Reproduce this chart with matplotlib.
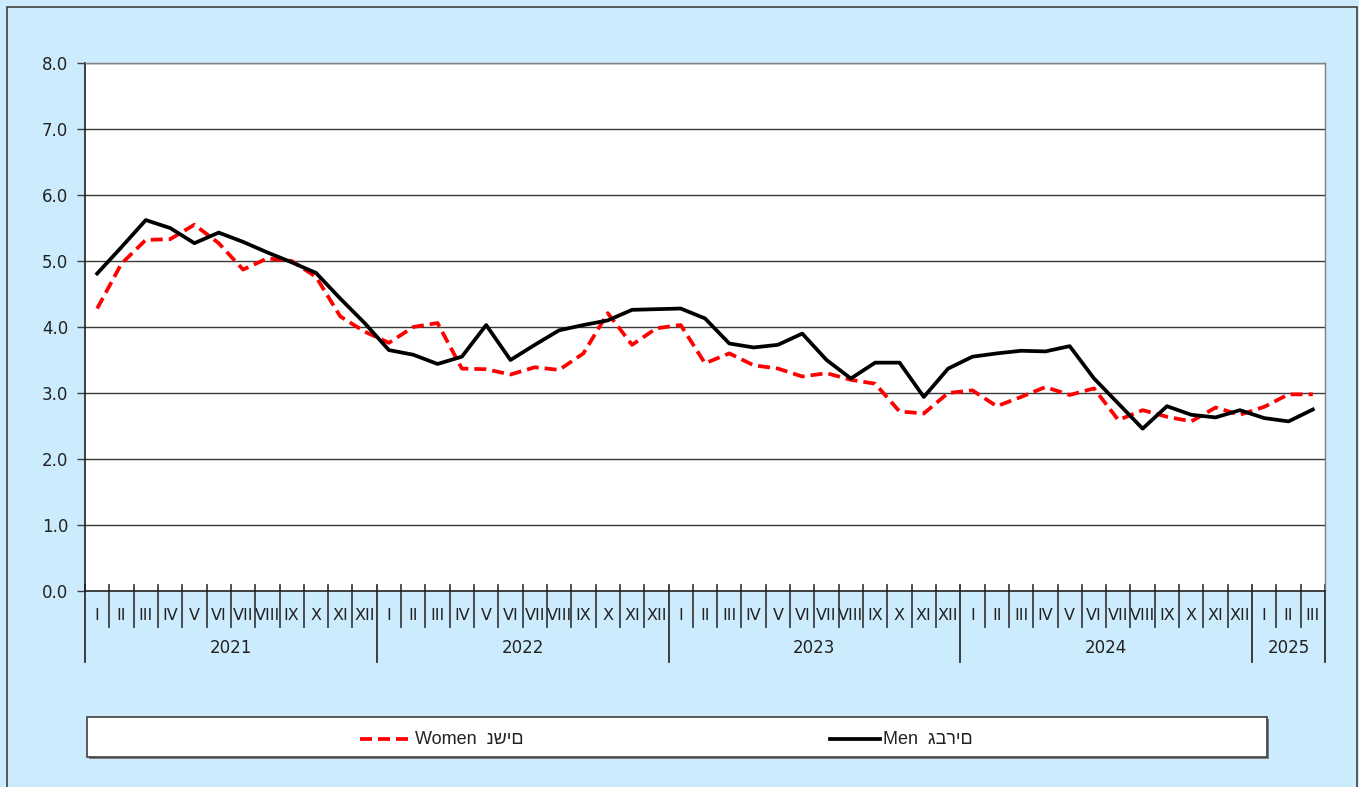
import matplotlib
matplotlib.use("Agg")
import matplotlib.pyplot as plt
from matplotlib.patches import Rectangle
from matplotlib.lines import Line2D
import matplotlib.transforms as mtransforms

plt.rcParams['font.family'] = ['DejaVu Sans']

years = ["2021", "2022", "2023", "2024", "2025"]
months_per_year = [12, 12, 12, 12, 3]
month_names = ["I", "II", "III", "IV", "V", "VI", "VII", "VIII", "IX", "X", "XI", "XII"]

women = [4.28, 4.96, 5.32, 5.33, 5.55, 5.27, 4.87, 5.04, 5.00, 4.76, 4.16, 3.93,
         3.76, 4.00, 4.06, 3.37, 3.36, 3.28, 3.39, 3.35, 3.60, 4.21, 3.73, 3.98,
         4.03, 3.45, 3.60, 3.42, 3.37, 3.25, 3.30, 3.20, 3.14, 2.72, 2.69, 3.00,
         3.04, 2.80, 2.94, 3.09, 2.97, 3.07, 2.59, 2.74, 2.64, 2.57, 2.78, 2.67,
         2.79, 2.98, 2.98]
men = [4.81, 5.21, 5.62, 5.50, 5.27, 5.43, 5.29, 5.13, 4.98, 4.82, 4.43, 4.06,
       3.65, 3.58, 3.44, 3.55, 4.03, 3.50, 3.73, 3.95, 4.03, 4.10, 4.26, 4.27,
       4.28, 4.13, 3.75, 3.69, 3.73, 3.90, 3.50, 3.22, 3.46, 3.46, 2.94, 3.37,
       3.55, 3.60, 3.64, 3.63, 3.71, 3.22, 2.84, 2.46, 2.80, 2.67, 2.63, 2.74,
       2.62, 2.57, 2.75]

legend_labels = ["Women  נשים", "Men  גברים"]
yticks = [0, 1, 2, 3, 4, 5, 6, 7, 8]

W, H = 1359, 787
fig = plt.figure(figsize=(W / 100, H / 100), dpi=100)
fig.patch.set_facecolor("#CCEBFD")

ax = fig.add_axes([85 / W, 1 - 591 / H, (1325 - 85) / W, (591 - 63) / H])
ax.set_facecolor("white")

n = len(men)
x = list(range(n))
ax.plot(x, women, color="#FF0000", lw=2.7, dashes=(3.2, 1.6), zorder=3)
ax.plot(x, men, color="black", lw=2.7, zorder=4)

ax.set_xlim(-0.5, n - 0.5)
ax.set_ylim(0, 8)
ax.set_yticks(yticks)
ax.set_yticklabels([f"{v:.1f}" for v in yticks], fontsize=12, color="#222222")
ax.tick_params(axis="y", length=6, width=1, color="#404040", pad=6)
ax.set_xticks([])
for v in yticks[1:]:
    ax.axhline(v, color="#3a3a3a", lw=1.0, zorder=1)
for side in ["left", "bottom"]:
    ax.spines[side].set_color("#202020")
    ax.spines[side].set_linewidth(1.2)
for side in ["top", "right"]:
    ax.spines[side].set_color("#808080")
    ax.spines[side].set_linewidth(1.0)

trans = mtransforms.blended_transform_factory(ax.transData, ax.transAxes)
ah = 591 - 63
y_top = 6 / ah
y_msep = -36 / ah
y_ysep = -71 / ah
y_mlab = -24 / ah
y_ylab = -57 / ah

idx = 0
bounds = [-0.5]
for yr, cnt in zip(years, months_per_year):
    for m in range(cnt):
        ax.text(idx, y_mlab, month_names[m], transform=trans, ha="center", va="center",
                fontsize=11.5, color="#222222")
        if m > 0:
            ax.plot([idx - 0.5, idx - 0.5], [y_top, y_msep], transform=trans, color="#404040",
                    lw=1.3, clip_on=False)
        idx += 1
    ax.text(idx - cnt / 2 - 0.5, y_ylab, yr, transform=trans, ha="center", va="center",
            fontsize=12, color="#222222")
    bounds.append(idx - 0.5)
for b in bounds:
    ax.plot([b, b], [y_top, y_ysep], transform=trans, color="#303030", lw=1.3, clip_on=False)

# legend box
lx0, ly0, lx1, ly1 = 87, 717, 1267, 757
fig.add_artist(Rectangle((lx0 / W + 2 / W, 1 - (ly1 + 2) / H), (lx1 - lx0) / W, (ly1 - ly0) / H,
                         transform=fig.transFigure, facecolor="#7f7f7f", edgecolor="none"))
fig.add_artist(Rectangle((lx0 / W, 1 - ly1 / H), (lx1 - lx0) / W, (ly1 - ly0) / H,
                         transform=fig.transFigure, facecolor="white", edgecolor="#404040", lw=1.2))
ly = 1 - 739 / H
leg_font = ['Liberation Sans', 'DejaVu Sans']
fig.add_artist(Line2D([360 / W, 412 / W], [ly, ly], transform=fig.transFigure, color="#FF0000",
                      lw=2.7, dashes=(3.2, 1.6)))
fig.text(415 / W, ly, legend_labels[0], ha="left", va="center", fontsize=13, color="#222222",
         family=leg_font)
fig.add_artist(Line2D([830 / W, 880 / W], [ly, ly], transform=fig.transFigure, color="black", lw=2.7))
fig.text(883 / W, ly, legend_labels[1], ha="left", va="center", fontsize=13, color="#222222",
         family=leg_font)

# outer frame
fig.add_artist(Rectangle((7 / W, -0.01), (1357 - 7) / W, 1 - 7 / H + 0.01,
                         transform=fig.transFigure, fill=False, edgecolor="#404040", lw=1.2))

fig.savefig("out.png", dpi=100, facecolor=fig.get_facecolor())
